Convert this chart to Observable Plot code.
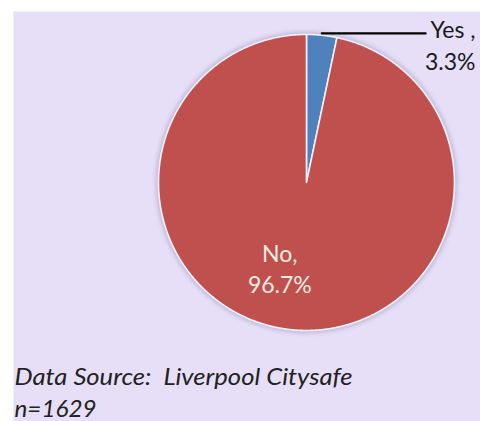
<!DOCTYPE html>
<html>
<head>
<meta charset="utf-8">
<script src="https://cdn.jsdelivr.net/npm/d3@7"></script>
<script src="https://cdn.jsdelivr.net/npm/@observablehq/plot@0.6"></script>
<style>
  html, body { margin: 0; padding: 0; background: #ffffff; }
  svg { display: block; }
</style>
</head>
<body>
<div id="chart"></div>
<script>
// ---- data ----
const categories = ["Yes", "No"];
const values = [3.3, 96.7];
const labelNames = ["Yes ,", "No,"];
const colors = ["#4F81BD", "#C0504D"];
const sourceText = "Data Source:  Liverpool Citysafe";
const nText = "n=1629";

// ---- geometry from data ----
const pie = d3.pie().sort(null).value(d => d.value).startAngle(0).endAngle(2 * Math.PI);
const arcs = pie(categories.map((c, i) => ({category: c, value: values[i]})));
const step = Math.PI / 720;
const slicePts = [];
arcs.forEach(a => {
  slicePts.push({category: a.data.category, x: 0, y: 0});
  const n = Math.max(2, Math.ceil((a.endAngle - a.startAngle) / step));
  for (let k = 0; k <= n; k++) {
    const t = a.startAngle + (a.endAngle - a.startAngle) * k / n;
    slicePts.push({category: a.data.category, x: Math.sin(t), y: Math.cos(t)});
  }
});
const circlePts = d3.range(0, 721).map(k => ({x: Math.sin(k * step * 2), y: Math.cos(k * step * 2)}));

// label layout (unit radius coordinates)
const total = d3.sum(values);
const labelLayout = {
  Yes: {x: 1.142, y: 1.04},
  No: {x: -0.18, y: -0.575}
};
const labels = arcs.map((a, i) => ({
  category: a.data.category,
  text: `${labelNames[i]}\n${(a.data.value / total * 100).toFixed(1)}%`,
  ...labelLayout[a.data.category]
}));
const yesArc = arcs[0];
const mid = (yesArc.startAngle + yesArc.endAngle) / 2;
const leader = [{x: Math.sin(mid), y: Math.cos(mid) + 0.012}, {x: 0.805, y: Math.cos(mid) + 0.012}];

const chart = Plot.plot({
  width: 480,
  height: 421,
  marginLeft: 13,
  marginTop: 11,
  marginRight: 0,
  marginBottom: 0,
  x: {domain: [-1.98, 1.176], axis: null},
  y: {domain: [-1.615, 1.155], axis: null},
  color: {domain: categories, range: colors},
  style: {fontFamily: "Lato, 'Open Sans', sans-serif", background: "transparent", overflow: "visible"},
  marks: [
    Plot.frame({fill: "#E6DFF7", stroke: "none"}),
    Plot.line(circlePts, {x: "x", y: "y", curve: "linear-closed", fill: "none", stroke: "#8f85ad", strokeWidth: 5, strokeOpacity: 0.45, className: "shadow"}),
    Plot.line(slicePts, {x: "x", y: "y", z: "category", fill: "category", stroke: "#F4F1FA", strokeWidth: 1.6, curve: "linear-closed", strokeLinejoin: "round"}),
    Plot.line(leader, {x: "x", y: "y", stroke: "#000", strokeWidth: 2.2}),
    Plot.text(labels.filter(d => d.category === "Yes"), {x: "x", y: "y", text: "text", textAnchor: "end", lineAnchor: "top", fill: "#1a1a1a", fontSize: 23, lineHeight: 1.38, dy: -13}),
    Plot.text(labels.filter(d => d.category === "No"), {x: "x", y: "y", text: "text", textAnchor: "middle", lineAnchor: "middle", fill: "#F2EDE0", fontSize: 23, lineHeight: 1.36}),
    Plot.text([sourceText], {frameAnchor: "bottom-left", text: d => d, dx: 1, dy: -37, lineAnchor: "bottom", fontSize: 22.5, fontStyle: "italic", fill: "#222", className: "src"}),
    Plot.text([nText], {frameAnchor: "bottom-left", text: d => d, dx: 1, dy: -5, lineAnchor: "bottom", fontSize: 22.5, fontStyle: "italic", fill: "#222", className: "ntxt"})
  ]
});
d3.select(chart).selectAll(".shadow path").style("filter", "blur(2px)");
d3.select(chart).selectAll(".src text").attr("textLength", 338).attr("lengthAdjust", "spacingAndGlyphs");
d3.select(chart).selectAll(".ntxt text").attr("textLength", 82).attr("lengthAdjust", "spacingAndGlyphs");
document.getElementById("chart").appendChild(chart);
</script>
</body>
</html>
